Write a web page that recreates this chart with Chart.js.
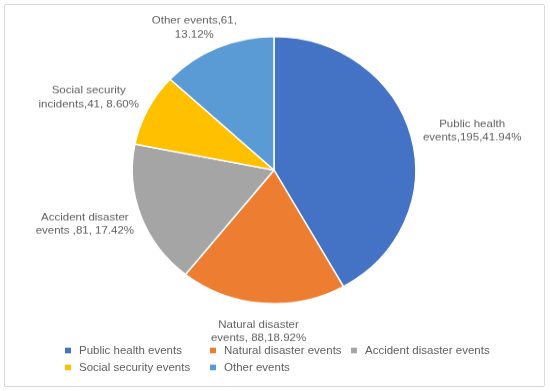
<!DOCTYPE html>
<html>
<head>
<meta charset="utf-8">
<script src="https://cdn.jsdelivr.net/npm/chart.js@4.4.0/dist/chart.umd.min.js"></script>
<style>
    html, body { margin: 0; padding: 0; background: #fff; }
    body { width: 550px; height: 391px; position: relative; overflow: hidden;
           font-family: "Liberation Sans", Arial, sans-serif; }
    #frame { position: absolute; left: 4px; top: 4px; width: 539px; height: 381px;
             border: 1.5px solid #d9d9d9; border-radius: 2px; }
    /* the reference is squashed vertically a little, so draw tall and scale down */
    #stage { position: absolute; left: 0; top: 0; width: 550px; height: 415px;
             transform: scaleY(0.9422); transform-origin: 0 0; }
    #stage canvas { position: absolute; left: 0; top: 0; }
    .lg { position: absolute; font-size: 11.5px; color: #5f5f5f; white-space: nowrap; line-height: 16px; }
    .lg i { display: inline-block; width: 6px; height: 6px; margin-right: 8px; vertical-align: 1px; }
</style>
</head>
<body>
<div id="frame"></div>
<div id="stage">
    <canvas id="pieChart" width="550" height="415"></canvas>
    <div id="legend"></div>
</div>
<script>
const categories = ['Public health events', 'Natural disaster events', 'Accident disaster events',
                    'Social security events', 'Other events'];
const counts = [195, 88, 81, 41, 61];
const colors = ['#4472C4', '#ED7D31', '#A5A5A5', '#FFC000', '#5B9BD5'];
const labelLines = [
    ['Public health', 'events,195,41.94%'],
    ['Natural disaster', 'events, 88,18.92%'],
    ['Accident disaster', 'events ,81, 17.42%'],
    ['Social security', 'incidents,41, 8.60%'],
    ['Other events,61,', '13.12%']
];

// offset of each label block from the outer middle of its slice
const labelNudge = [[61, -6], [-4, 30], [-56, 8.6], [-59, -12.5], [-23, -21]];

const sliceLabels = {
    id: 'sliceLabels',
    afterDatasetsDraw(chart) {
        const ctx = chart.ctx;
        const meta = chart.getDatasetMeta(0);
        ctx.save();
        ctx.font = '11.5px "Liberation Sans", Arial, sans-serif';
        ctx.fillStyle = '#5f5f5f';
        ctx.textAlign = 'center';
        ctx.textBaseline = 'middle';
        meta.data.forEach((arc, i) => {
            const p = arc.getProps(['x', 'y', 'startAngle', 'endAngle', 'outerRadius'], true);
            const mid = (p.startAngle + p.endAngle) / 2;
            const px = p.x + Math.cos(mid) * p.outerRadius + labelNudge[i][0];
            const py = p.y + Math.sin(mid) * p.outerRadius + labelNudge[i][1];
            const lines = labelLines[i];
            lines.forEach((line, k) => {
                ctx.fillText(line, px, py + (k - (lines.length - 1) / 2) * 14.5);
            });
        });
        ctx.restore();
    }
};

new Chart(document.getElementById('pieChart'), {
    type: 'pie',
    data: {
        labels: categories,
        datasets: [{
            data: counts,
            backgroundColor: colors,
            borderColor: '#fff',
            borderWidth: 1.5
        }]
    },
    options: {
        responsive: false,
        animation: false,
        layout: { padding: { left: 131, top: 38, right: 133, bottom: 92 } },
        plugins: {
            legend: { display: false },
            tooltip: { enabled: false }
        }
    },
    plugins: [sliceLabels]
});

// legend laid out as a two-row table like the original
const legendCols = [65, 210, 351];
const legendRows = [372, 390];
const legend = document.getElementById('legend');
categories.forEach((name, i) => {
    const item = document.createElement('div');
    item.className = 'lg';
    item.style.left = legendCols[i % 3] + 'px';
    item.style.top = (legendRows[Math.floor(i / 3)] - 8) + 'px';
    item.innerHTML = '<i style="background:' + colors[i] + '"></i>' + name;
    legend.appendChild(item);
});
</script>
</body>
</html>
